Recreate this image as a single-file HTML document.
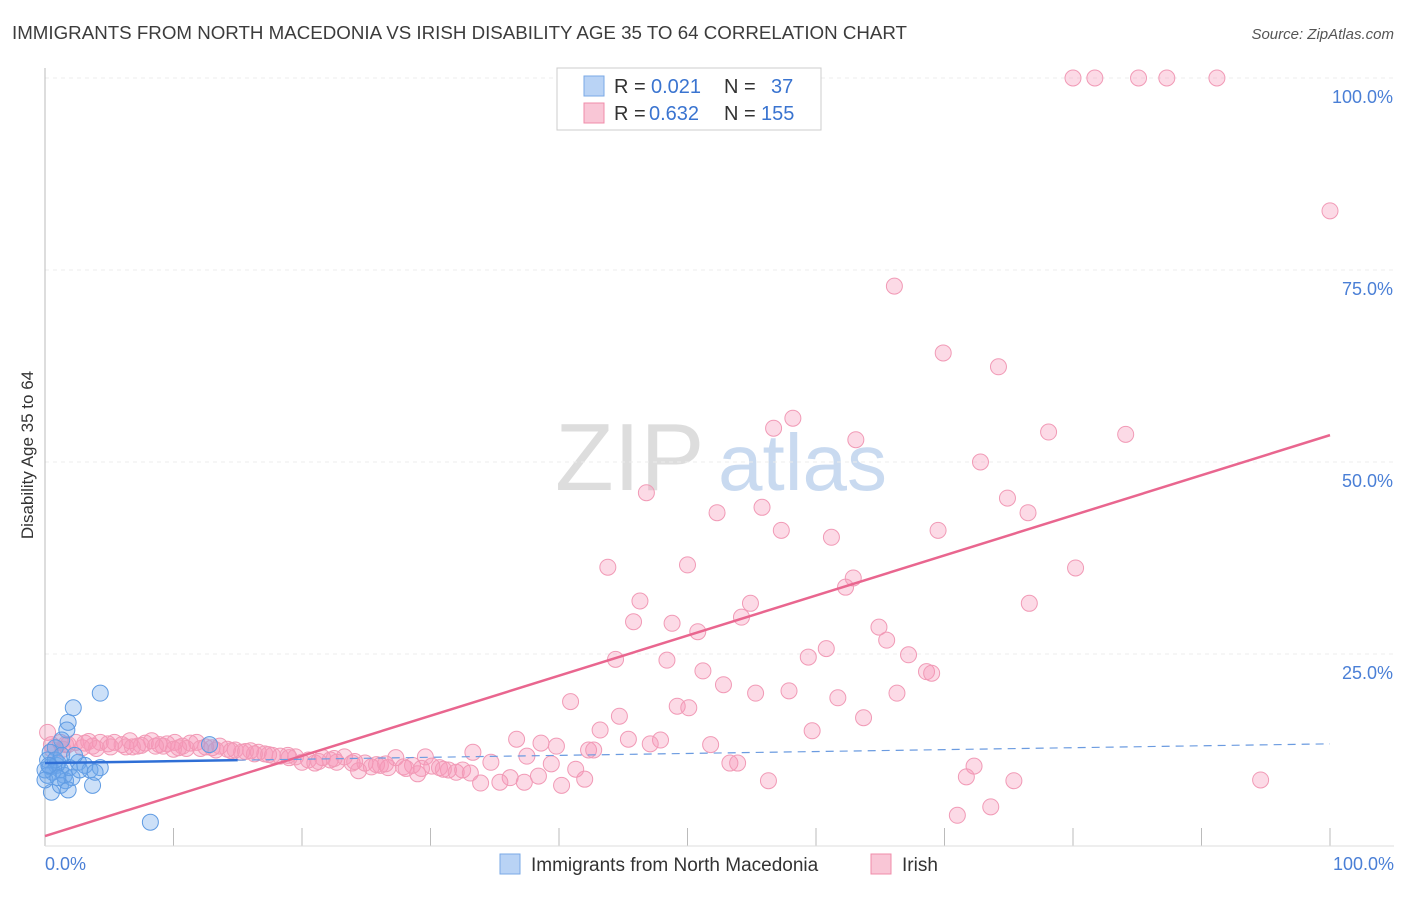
<!DOCTYPE html>
<html><head><meta charset="utf-8"><style>
body{margin:0;background:#fff;font-family:"Liberation Sans",sans-serif}
svg text{font-family:"Liberation Sans",sans-serif}
</style></head><body>
<svg width="1406" height="892" xmlns="http://www.w3.org/2000/svg">
<text x="12" y="39" font-size="18" fill="#3c3c3c" textLength="895" lengthAdjust="spacingAndGlyphs">IMMIGRANTS FROM NORTH MACEDONIA VS IRISH DISABILITY AGE 35 TO 64 CORRELATION CHART</text>
<text x="1394" y="39" font-size="15" fill="#555" text-anchor="end" font-style="italic">Source: ZipAtlas.com</text>
<g><text x="555" y="490" font-size="96" font-family="Liberation Serif,serif" fill="#ddd">ZIP</text><text x="718" y="490" font-size="80" fill="#c9daf0">atlas</text></g>
<g id="grid"></g>
<line x1="45" y1="68" x2="45" y2="846" stroke="#bbb"/>
<line x1="45" y1="846" x2="1394" y2="846" stroke="#ddd"/>
<text x="33" y="455" font-size="17" fill="#333" text-anchor="middle" transform="rotate(-90 33 455)">Disability Age 35 to 64</text>
<text x="45" y="870" font-size="18" fill="#4a7fd6">0.0%</text>
<text x="1394" y="870" font-size="18" fill="#4a7fd6" text-anchor="end">100.0%</text>
<g id="pts"></g>
<g id="trends"></g>
<g>
<rect x="557" y="68" width="264" height="62" fill="#fff" stroke="#ccc"/>
<rect x="584" y="76" width="20" height="20" fill="#b9d3f5" stroke="#7aa8e6"/>
<rect x="584" y="103" width="20" height="20" fill="#f9c6d6" stroke="#f08caa"/>
<g font-size="20">
<text x="614" y="93" fill="#333">R =</text><text x="651" y="93" fill="#3a74d0">0.021</text>
<text x="724" y="93" fill="#333">N =</text><text x="771" y="93" fill="#3a74d0">37</text></g>
<g font-size="20">
<text x="614" y="120" fill="#333">R =</text><text x="649" y="120" fill="#3a74d0">0.632</text>
<text x="724" y="120" fill="#333">N =</text><text x="761" y="120" fill="#3a74d0">155</text></g>
</g>
<g>
<rect x="500" y="854" width="20" height="20" fill="#b9d3f5" stroke="#7aa8e6"/>
<text x="531" y="871" font-size="19" fill="#333">Immigrants from North Macedonia</text>
<rect x="871" y="854" width="20" height="20" fill="#f9c6d6" stroke="#f08caa"/>
<text x="902" y="871" font-size="19" fill="#333">Irish</text>
</g>
</svg>
<script>
const yTicks=[25,50,75,100];
const yTickLabels=["25.0%","50.0%","75.0%","100.0%"];
const xTicks=[0,10,20,30,40,50,60,70,80,90,100];
const blueX=[4.3,2.2,1.8,1.7,1.3,0.8,0.4,0.2,0.4,0.6,0.9,1.2,1.5,1.6,0.5,1.0,1.9,2.6,3.1,3.5,4.3,3.7,2.1,0.2,0,8.2,12.8,1.2,0.8,1.3,2.3,0,1.8,2.7,1.0,0.3,3.9];
const blueY=[19.9,18.0,16.1,15.1,13.8,12.8,12.2,11.2,10.3,9.6,10.5,9.9,9.2,8.5,7.0,10.8,10.2,10.9,10.5,9.9,10.2,7.9,8.9,9.2,9.9,3.1,13.2,7.9,11.2,11.8,11.8,8.6,7.3,9.9,8.9,10.5,9.6];
const pinkX=[80.0,81.7,85.1,87.3,91.2,100,66.1,69.9,74.2,58.2,56.7,78.1,84.1,63.1,72.8,46.8,74.9,55.8,52.3,76.5,57.3,69.5,61.2,43.8,50.0,80.2,62.9,62.3,46.3,54.9,76.6,54.2,45.8,48.8,64.9,50.8,65.5,60.8,67.2,59.4,44.4,48.4,51.2,68.6,69.0,52.8,55.3,57.9,66.3,61.7,40.9,49.2,50.1,63.7,44.7,43.2,59.7,36.7,45.4,47.9,47.1,38.6,39.8,51.8,42.3,42.7,33.3,37.5,34.7,39.4,53.3,53.9,41.3,72.3,71.7,38.4,36.2,35.4,33.9,37.3,42.0,40.2,56.3,75.4,94.6,73.6,71.0,
0.2,0.5,1.2,1.8,2.4,3.1,3.7,4.3,4.9,5.4,6.0,6.6,7.2,7.8,8.3,8.9,9.5,10.1,10.7,11.3,11.8,12.5,13.0,13.6,14.2,14.8,15.3,16.0,16.6,17.1,17.7,18.3,18.9,19.5,20.0,20.5,21.0,21.6,22.2,22.7,23.3,23.9,24.4,24.9,25.4,26.1,26.7,27.3,27.9,28.6,29.0,29.6,30.1,30.7,31.4,32.0,32.5,33.1,1.6,2.9,5.1,7.5,9.2,11.0,3.4,6.3,8.6,10.4,12.1,14.5,16.3,19.0,21.3,25.8,28.1,31.0,0.6,1.4,4.0,6.8,10.0,13.3,15.6,17.4,22.5,24.1,26.5,29.3];
const pinkY=[100,100,100,100,100,82.7,72.9,64.2,62.4,55.7,54.4,53.9,53.6,52.9,50.0,46.0,45.3,44.1,43.4,43.4,41.1,41.1,40.2,36.3,36.6,36.2,34.9,33.7,31.9,31.6,31.6,29.8,29.2,29.0,28.5,27.9,26.8,25.7,24.9,24.6,24.3,24.2,22.8,22.7,22.5,21.0,19.9,20.2,19.9,19.3,18.8,18.2,18.0,16.7,16.9,15.1,15.0,13.9,13.9,13.8,13.3,13.4,13.0,13.2,12.5,12.5,12.2,11.7,10.9,10.7,10.8,10.8,10.0,10.4,9.0,9.1,8.9,8.3,8.2,8.3,8.7,7.9,8.5,8.5,8.6,5.1,4.0,
14.8,13.2,13.5,13.2,13.5,13.4,13.0,13.5,13.3,13.5,13.2,13.7,13.0,13.4,13.7,13.2,13.3,13.5,13.0,13.4,13.5,12.9,12.8,13.0,12.6,12.5,12.2,12.4,12.2,12.0,11.8,11.7,11.8,11.6,10.9,11.2,10.8,11.5,11.2,10.9,11.6,10.8,9.8,10.8,10.3,10.5,10.2,11.5,10.3,10.5,9.4,11.6,10.4,10.2,9.9,9.6,9.9,9.5,13.2,12.8,12.9,13.1,13.0,12.7,13.6,12.9,13.0,12.8,12.7,12.4,12.0,11.5,11.0,10.6,10.1,10.0,12.5,12.6,12.7,12.9,12.6,12.5,12.3,11.9,11.4,11.0,10.7,10.1];
const pinkTrend=[1.3,53.5];
const blueTrend=[10.8,13.3];
const X=v=>45+v*12.85, Y=v=>846-v*7.68;
const NS="http://www.w3.org/2000/svg";
function mk(t,a,p){const e=document.createElementNS(NS,t);for(const k in a)e.setAttribute(k,a[k]);p.appendChild(e);return e;}
const grid=document.getElementById('grid');
yTicks.forEach((t,i)=>{
 const l=mk('line',{x1:45,x2:1394,y1:Y(t),y2:Y(t),stroke:'#ececec','stroke-dasharray':'4,4'},grid);
 
 
 const tx=mk('text',{x:1393,y:Y(t)+25,'font-size':18,fill:'#4a7fd6','text-anchor':'end'},grid);
 tx.textContent=yTickLabels[i];
 
 
});
xTicks.forEach(t=>{
 const l=mk('line',{x1:X(t),x2:X(t),y1:828,y2:846,stroke:'#bbb'},grid);
 
 
});
const pts=document.getElementById('pts');
pinkX.forEach((x,i)=>{
 const c=mk('circle',{cx:X(x),cy:Y(pinkY[i]),r:8,fill:'rgba(245,150,182,0.35)',stroke:'#f19ab6','stroke-width':1},pts);
 
 
});
blueX.forEach((x,i)=>{
 const c=mk('circle',{cx:X(x),cy:Y(blueY[i]),r:8,fill:'rgba(110,165,235,0.35)',stroke:'#5f9be3','stroke-width':1},pts);
 
 
});
const tr=document.getElementById('trends');
const pl=mk('line',{x1:X(0),y1:Y(pinkTrend[0]),x2:X(100),y2:Y(pinkTrend[1]),stroke:'#e9668f','stroke-width':2.5},tr);


const bm=blueTrend[0]+(blueTrend[1]-blueTrend[0])*0.15;
const bl=mk('line',{x1:X(0),y1:Y(blueTrend[0]),x2:X(15),y2:Y(bm),stroke:'#2f6fd6','stroke-width':2.5},tr);


const bd=mk('line',{x1:X(15),y1:Y(bm),x2:X(100),y2:Y(blueTrend[1]),stroke:'#6b9be0','stroke-width':1.2,'stroke-dasharray':'8,6'},tr);


</script>
</body></html>
